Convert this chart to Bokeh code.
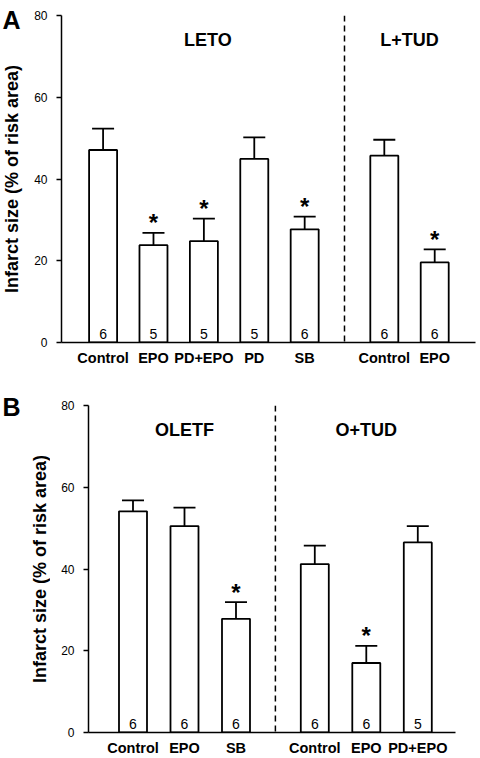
import math
from bokeh.plotting import figure
from bokeh.layouts import column, row
from bokeh.models import Range1d, FixedTicker, Span, ColumnDataSource
from bokeh.core.properties import value
from bokeh.embed import file_html
from bokeh.resources import INLINE

# ---------------- data ----------------
# Panel A
a_groups = ["LETO", "L+TUD"]
a_cats_1 = ["Control", "EPO", "PD+EPO", "PD", "SB"]
a_vals_1 = [47.1, 23.8, 24.8, 44.9, 27.7]
a_errs_1 = [5.2, 3.0, 5.5, 5.3, 3.1]
a_n_1 = ["6", "5", "5", "5", "6"]
a_sig_1 = [False, True, True, False, True]
a_cats_2 = ["Control", "EPO"]
a_vals_2 = [45.7, 19.6]
a_errs_2 = [3.9, 3.2]
a_n_2 = ["6", "6"]
a_sig_2 = [False, True]

# Panel B
b_groups = ["OLETF", "O+TUD"]
b_cats_1 = ["Control", "EPO", "SB"]
b_vals_1 = [54.1, 50.5, 27.8]
b_errs_1 = [2.7, 4.5, 4.1]
b_n_1 = ["6", "6", "6"]
b_sig_1 = [False, False, True]
b_cats_2 = ["Control", "EPO", "PD+EPO"]
b_vals_2 = [41.2, 17.0, 46.5]
b_errs_2 = [4.5, 4.2, 4.0]
b_n_2 = ["6", "6", "5"]
b_sig_2 = [False, True, False]

y_ticks = [0, 20, 40, 60, 80]
y_label = "Infarct size (% of risk area)"
panel_letters = ["A", "B"]

FONT = "Liberation Sans"


def side(letter, width, height, frame_top, frame_bottom, letter_x, letter_top, label_cx):
    """Narrow strip holding the panel letter and the rotated y-axis title."""
    s = figure(width=width, height=height, output_backend="svg", toolbar_location=None,
               x_range=Range1d(0, width), y_range=Range1d(0, height),
               x_axis_location=None, y_axis_location=None,
               min_border=0, min_border_left=0, min_border_right=0,
               min_border_top=0, min_border_bottom=0)
    s.frame_align = False
    s.outline_line_color = None
    s.xgrid.visible = False
    s.ygrid.visible = False
    s.text(x=[letter_x], y=[height - letter_top], text=[letter], text_align="left",
           text_baseline="top", text_font=value(FONT), text_font_size="25px",
           text_font_style="bold", text_color="black")
    s.text(x=[label_cx], y=[height - (frame_top + frame_bottom) / 2.0], text=[y_label],
           angle=math.pi / 2, text_align="center", text_baseline="middle",
           text_font=value(FONT), text_font_size="18px", text_font_style="bold",
           text_color="black")
    return s


def panel(groups, cats1, vals1, errs1, n1, sig1, cats2, vals2, errs2, n2, sig2,
          width, height, left, right, top, bottom, px_per_unit, gap, x_start, title_dx):
    frame_w = width - left - right
    x_end = x_start + frame_w / px_per_unit
    xs1 = [i + 1 for i in range(len(cats1))]
    xs2 = [len(cats1) + 1 + gap + i for i in range(len(cats2))]
    xs = xs1 + xs2
    cats = cats1 + cats2
    vals = vals1 + vals2
    errs = errs1 + errs2
    ns = n1 + n2
    sig = sig1 + sig2
    bw = 28.0 / px_per_unit
    cap = 11.0 / px_per_unit

    p = figure(width=width, height=height, output_backend="svg", toolbar_location=None,
               x_range=Range1d(x_start, x_end), y_range=Range1d(0, 80),
               min_border_left=left, min_border_right=right,
               min_border_top=top, min_border_bottom=bottom)
    p.frame_align = False
    p.outline_line_color = None
    p.xgrid.visible = False
    p.ygrid.visible = False
    p.background_fill_color = "white"
    p.border_fill_color = "white"

    src = ColumnDataSource(dict(x=xs, top=vals, hi=[v + e for v, e in zip(vals, errs)],
                                n=ns, lo=[0] * len(xs)))
    p.vbar(x="x", top="top", width=bw, bottom=0, source=src, fill_color="white",
           line_color="black", line_width=1.8)
    p.segment(x0="x", y0="top", x1="x", y1="hi", source=src, line_color="black", line_width=1.8)
    p.segment(x0=[x - cap for x in xs], y0=src.data["hi"], x1=[x + cap for x in xs],
              y1=src.data["hi"], line_color="black", line_width=1.8)
    p.text(x="x", y="lo", text="n", source=src, text_align="center",
           text_baseline="alphabetic", y_offset=-9, text_font=value(FONT),
           text_font_size="14px", text_color="black")

    sx = [x for x, s in zip(xs, sig) if s]
    sy = [h for h, s in zip(src.data["hi"], sig) if s]
    p.text(x=sx, y=sy, text=["*"] * len(sx), text_align="center", text_baseline="alphabetic",
           y_offset=-10, text_font=value(FONT), text_font_size="24px", text_font_style="bold",
           text_color="black")

    mid = (xs1[-1] + xs2[0]) / 2.0
    p.add_layout(Span(location=mid, dimension="height", line_color="black",
                      line_width=1.5, line_dash="6 4"))

    gx = [(xs1[0] + xs1[-1]) / 2.0, (xs2[0] + xs2[-1]) / 2.0]
    p.text(x=gx, y=[74, 74], text=groups, x_offset=[title_dx, 0], text_align="center",
           text_baseline="middle", text_font=value(FONT), text_font_size="18px",
           text_font_style="bold", text_color="black")

    ya = p.yaxis[0]
    ya.ticker = FixedTicker(ticks=y_ticks)
    ya.minor_tick_line_color = None
    ya.major_tick_out = 5
    ya.major_tick_in = 0
    ya.major_tick_line_width = 1.5
    ya.axis_line_width = 1.5
    ya.major_label_standoff = 9
    ya.major_label_text_font = FONT
    ya.major_label_text_font_size = "12px"
    ya.major_label_text_color = "black"

    xa = p.xaxis[0]
    xa.ticker = FixedTicker(ticks=xs)
    xa.major_label_overrides = {x: c for x, c in zip(xs, cats)}
    xa.minor_tick_line_color = None
    xa.major_tick_out = 0
    xa.major_tick_in = 0
    xa.axis_line_width = 1.5
    xa.major_label_standoff = 7
    xa.major_label_text_font = FONT
    xa.major_label_text_font_size = "14.5px"
    xa.major_label_text_font_style = "bold"
    xa.major_label_text_color = "black"
    return p


# Panel A: figure spans page y 0..370, frame top 15, frame bottom 342
sa = side(panel_letters[0], 24, 370, 15, 342, 2, 5, 11)
pa = panel(a_groups, a_cats_1, a_vals_1, a_errs_1, a_n_1, a_sig_1,
           a_cats_2, a_vals_2, a_errs_2, a_n_2, a_sig_2,
           width=456, height=370, left=37, right=5, top=15, bottom=28,
           px_per_unit=50.4, gap=0.58, x_start=0.175, title_dx=4)

# Panel B: figure spans page y 370..758, frame top 35, frame bottom 362
sb = side(panel_letters[1], 50, 388, 35, 362, 2, 22, 39)
pb = panel(b_groups, b_cats_1, b_vals_1, b_errs_1, b_n_1, b_sig_1,
           b_cats_2, b_vals_2, b_errs_2, b_n_2, b_sig_2,
           width=430, height=388, left=38, right=25, top=35, bottom=26,
           px_per_unit=51.5, gap=0.53, x_start=0.136, title_dx=0)

layout = column(row(sa, pa), row(sb, pb))
open("out.html", "w").write(file_html(layout, INLINE))
